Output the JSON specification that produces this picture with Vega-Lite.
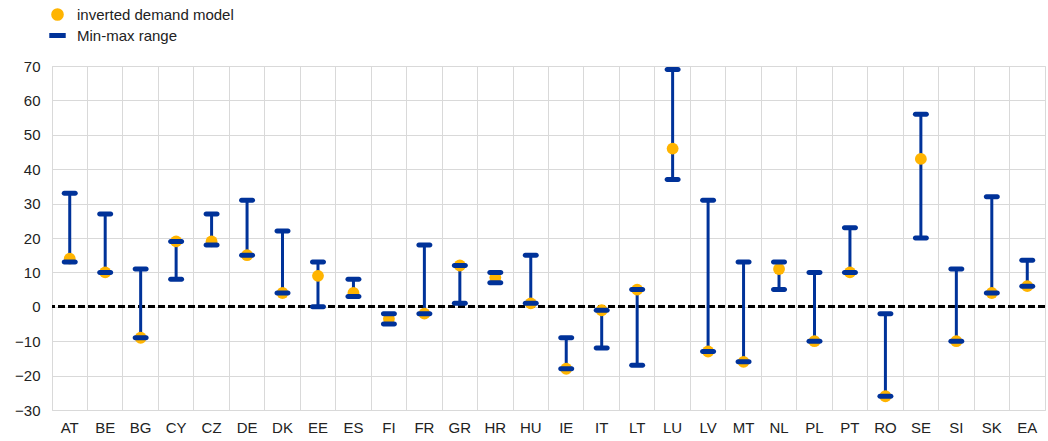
{
  "$schema": "https://vega.github.io/schema/vega-lite/v6.json",
  "width": 993,
  "height": 344,
  "autosize": {"type": "none"},
  "padding": {"left": 52, "top": 66, "right": 3, "bottom": 31},
  "background": "white",
  "config": {
    "font": "Liberation Sans",
    "view": {"stroke": "#d9d9d9", "strokeWidth": 1},
    "axis": {"labelFont": "Liberation Sans", "labelFontSize": 15, "labelColor": "#222222", "gridColor": "#d9d9d9", "gridWidth": 1, "domain": false, "ticks": false, "title": null, "labelOverlap": false},
    "axisY": {"labelOverlap": false, "tickCount": 10},
    "axisQuantitative": {"labelOverlap": false}
  },
  "data": {
    "values": [
      {"country": "AT", "model": 14, "min": 13, "max": 33},
      {"country": "BE", "model": 10, "min": 10, "max": 27},
      {"country": "BG", "model": -9, "min": -9, "max": 11},
      {"country": "CY", "model": 19, "min": 8, "max": 19},
      {"country": "CZ", "model": 19, "min": 18, "max": 27},
      {"country": "DE", "model": 15, "min": 15, "max": 31},
      {"country": "DK", "model": 4, "min": 4, "max": 22},
      {"country": "EE", "model": 9, "min": 0, "max": 13},
      {"country": "ES", "model": 4, "min": 3, "max": 8},
      {"country": "FI", "model": -3.5, "min": -5, "max": -2},
      {"country": "FR", "model": -2, "min": -2, "max": 18},
      {"country": "GR", "model": 12, "min": 1, "max": 12},
      {"country": "HR", "model": 8.5, "min": 7, "max": 10},
      {"country": "HU", "model": 1, "min": 1, "max": 15},
      {"country": "IE", "model": -18, "min": -18, "max": -9},
      {"country": "IT", "model": -1, "min": -12, "max": -1},
      {"country": "LT", "model": 5, "min": -17, "max": 5},
      {"country": "LU", "model": 46, "min": 37, "max": 69},
      {"country": "LV", "model": -13, "min": -13, "max": 31},
      {"country": "MT", "model": -16, "min": -16, "max": 13},
      {"country": "NL", "model": 11, "min": 5, "max": 13},
      {"country": "PL", "model": -10, "min": -10, "max": 10},
      {"country": "PT", "model": 10, "min": 10, "max": 23},
      {"country": "RO", "model": -26, "min": -26, "max": -2},
      {"country": "SE", "model": 43, "min": 20, "max": 56},
      {"country": "SI", "model": -10, "min": -10, "max": 11},
      {"country": "SK", "model": 4, "min": 4, "max": 32},
      {"country": "EA", "model": 6, "min": 6, "max": 13.5}
    ]
  },
  "layer": [
    {
      "mark": {"type": "rule", "color": "#000000", "strokeWidth": 2, "strokeDash": [7, 3]},
      "encoding": {"y": {"datum": 0, "type": "quantitative", "scale": {"domain": [-30, 70], "nice": false}, "axis": {"tickCount": 10, "labelPadding": 12, "grid": true, "labelOverlap": false}}}
    },
    {
      "mark": {"type": "rule", "color": "#003299", "strokeWidth": 3},
      "encoding": {
        "x": {
          "field": "country", "type": "nominal", "sort": null,
          "scale": {"paddingInner": 0, "paddingOuter": 0},
          "axis": {"labelAngle": 0, "labelPadding": 10, "bandPosition": 0, "grid": true}
        },
        "y": {"field": "min", "type": "quantitative", "scale": {"domain": [-30, 70], "nice": false},
          "axis": {"tickCount": 10, "labelPadding": 12, "grid": true, "labelOverlap": false}},
        "y2": {"field": "max"}
      }
    },
    {
      "mark": {"type": "point", "filled": true, "opacity": 1, "size": 140},
      "encoding": {
        "x": {"field": "country", "type": "nominal", "sort": null},
        "y": {"field": "model", "type": "quantitative", "axis": {"tickCount": 10, "labelPadding": 12, "grid": true, "labelOverlap": false}},
        "color": {"datum": "inverted demand model", "type": "nominal",
          "scale": {"domain": ["inverted demand model", "Min-max range"], "range": ["#FFB400", "#003299"]},
          "legend": {"title": null, "orient": "none", "legendX": -2, "legendY": -59, "direction": "vertical",
            "labelFontSize": 15, "labelColor": "#222222", "labelFont": "Liberation Sans", "symbolSize": 160, "rowPadding": 5, "labelOffset": 12, "symbolOpacity": 1}},
        "shape": {"datum": "inverted demand model", "type": "nominal",
          "scale": {"domain": ["inverted demand model", "Min-max range"], "range": ["circle", "M-1.3,-0.4H1.3V0.4H-1.3Z"]},
          "legend": {"title": null, "orient": "none", "legendX": -2, "legendY": -59, "direction": "vertical",
            "labelFontSize": 15, "labelColor": "#222222", "labelFont": "Liberation Sans", "symbolSize": 160, "rowPadding": 5, "labelOffset": 12, "symbolOpacity": 1}}
      }
    },
    {
      "mark": {"type": "tick", "size": 16, "thickness": 5, "cornerRadius": 2.5, "opacity": 1, "orient": "horizontal"},
      "encoding": {
        "x": {"field": "country", "type": "nominal", "sort": null},
        "y": {"field": "min", "type": "quantitative", "axis": {"tickCount": 10, "labelPadding": 12, "grid": true, "labelOverlap": false}},
        "color": {"datum": "Min-max range", "type": "nominal"}
      }
    },
    {
      "mark": {"type": "tick", "size": 16, "thickness": 5, "cornerRadius": 2.5, "opacity": 1, "orient": "horizontal"},
      "encoding": {
        "x": {"field": "country", "type": "nominal", "sort": null},
        "y": {"field": "max", "type": "quantitative", "axis": {"tickCount": 10, "labelPadding": 12, "grid": true, "labelOverlap": false}},
        "color": {"datum": "Min-max range", "type": "nominal"}
      }
    }
  ]
}
